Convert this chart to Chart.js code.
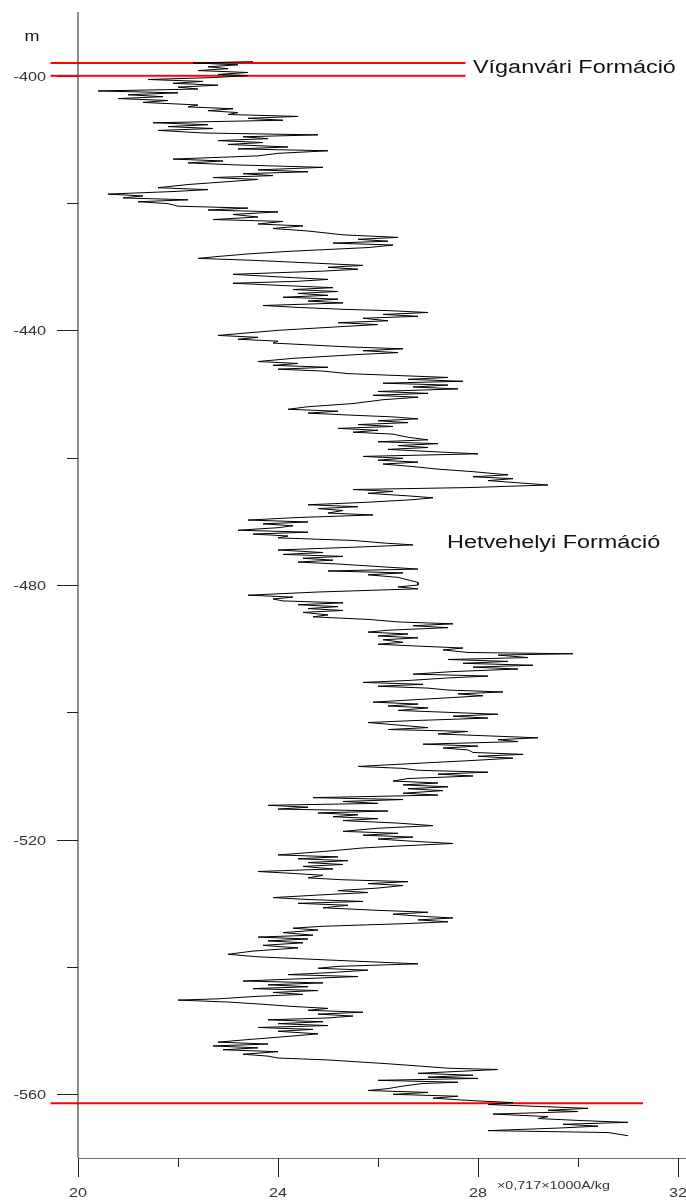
<!DOCTYPE html>
<html lang="hu">
<head>
<meta charset="UTF-8">
<title>Szuszceptibilitás szelvény</title>
<script src="https://cdn.jsdelivr.net/npm/chart.js@4.4.1/dist/chart.umd.min.js"></script>
<style>
  html, body { margin: 0; padding: 0; background: #fff; }
  canvas { display: block; }
</style>
</head>
<body>
<canvas id="logChart" width="686" height="1203"></canvas>
<script>
// mélység (m) és mért érték, soronként azonos számú elem
const depthM = [
  -397.8,-398.0,-398.3,-398.6,-398.9,-399.2,-399.5,-399.8,-400.0,
  -400.3,-400.6,-400.9,-401.2,-401.5,-401.8,-402.1,
  -402.4,-402.7,-403.0,-403.3,-403.6,-403.9,-404.2,
  -404.6,-404.9,-405.2,-405.5,-405.8,-406.1,-406.4,-406.7,-407.0,
  -407.4,-407.7,-408.0,-408.3,-408.6,
  -409.0,-409.3,-409.6,-409.9,-410.2,-410.5,-410.8,
  -411.2,-411.5,-411.8,-412.2,-412.6,
  -413.1,-413.4,-413.7,-414.0,-414.4,-414.8,-415.1,-415.4,
  -415.7,-416.0,-416.3,-416.7,-417.1,-417.6,-417.9,-418.2,
  -418.6,-418.9,-419.2,-419.5,-419.8,-420.1,
  -420.5,-420.8,-421.1,-421.4,-421.8,-422.2,
  -422.6,-422.9,-423.3,-423.6,-424.0,-424.4,
  -425.0,-425.4,-425.7,-426.0,-426.3,-426.6,-427.0,
  -427.3,-427.6,-428.0,-428.4,-428.7,
  -429.0,-429.4,-429.8,-430.1,-430.4,-430.7,
  -431.2,-431.6,-432.0,-432.3,-432.6,
  -433.0,-433.3,-433.6,-433.9,-434.2,-434.5,-434.8,-435.1,-435.4,-435.7,
  -436.1,-436.4,-436.7,-436.9,-437.2,-437.5,-437.8,-438.1,-438.5,-438.8,-439.1,-439.4,
  -440.0,-440.8,-441.1,-441.4,-441.7,-442.0,-442.2,
  -442.6,-442.9,-443.2,-443.5,-443.8,
  -444.4,-444.9,-445.2,-445.5,-445.8,-446.1,-446.4,
  -446.8,-447.1,-447.4,-447.7,-448.0,-448.3,-448.6,-448.9,-449.2,
  -449.6,-449.9,-450.2,-450.5,-450.9,
  -451.5,-452.0,-452.4,-452.7,-453.0,-453.3,
  -453.6,-453.9,-454.2,-454.5,-454.8,-455.1,-455.4,-455.7,-456.0,-456.3,
  -456.8,-457.2,-457.5,-457.8,-458.1,-458.4,-458.7,
  -459.1,-459.4,-459.8,-460.1,-460.4,-460.7,-461.0,-461.4,
  -461.8,-462.2,-462.7,-463.0,-463.3,-463.6,-464.0,-464.3,
  -464.7,-465.0,-465.3,-465.6,-466.0,-466.3,-466.6,-467.0,
  -467.4,-467.7,-468.0,-468.3,-468.7,-469.0,
  -469.4,-469.8,-470.1,-470.4,-470.7,-471.0,
  -471.4,-471.7,-472.0,-472.3,-472.6,
  -473.0,-473.4,-473.7,-474.1,-474.5,
  -474.9,-475.2,-475.5,-475.8,-476.1,-476.4,-476.7,
  -477.1,-477.5,-477.8,-478.1,-478.4,
  -478.8,-479.2,-479.6,-480.0,-480.3,-480.6,
  -481.1,-481.6,-481.9,-482.2,
  -482.5,-482.8,-483.1,-483.4,-483.7,-484.0,-484.3,-484.7,-485.0,
  -485.4,-485.8,-486.1,-486.4,-486.7,
  -487.1,-487.4,-487.7,-488.0,-488.3,-488.6,-489.0,-489.3,
  -489.6,-489.9,-490.2,-490.6,-490.8,-491.0,
  -491.4,-491.7,-492.0,-492.3,-492.6,-492.9,-493.2,
  -493.6,-494.0,-494.3,-494.6,
  -495.0,-495.3,-495.6,-495.9,-496.2,
  -496.5,-496.8,-497.1,-497.4,
  -497.9,-498.4,-498.7,-499.0,-499.3,-499.7,
  -500.0,-500.3,-500.6,-500.9,
  -501.3,-501.6,-502.0,-502.4,
  -502.7,-503.0,-503.4,-503.7,-504.0,-504.3,-504.6,
  -505.0,-505.3,-505.6,-505.9,
  -506.3,-506.6,-506.9,-507.2,-507.6,
  -508.0,-508.5,-508.8,-509.1,-509.4,-509.7,-510.0,
  -510.4,-510.8,-511.1,-511.4,-511.7,-512.0,-512.3,-512.7,-513.0,
  -513.4,-513.7,-514.0,-514.3,
  -514.6,-514.9,-515.2,-515.5,-515.8,-516.1,
  -516.4,-516.7,-517.0,-517.4,-517.8,
  -518.2,-518.7,-519.0,-519.3,-519.6,-519.9,-520.2,-520.6,
  -521.0,-521.3,-521.8,-522.1,-522.4,
  -522.7,-523.0,-523.3,-523.6,-523.9,-524.2,-524.6,
  -525.0,-525.3,-525.6,-526.0,-526.3,
  -526.6,-526.9,-527.2,-527.6,
  -528.0,-528.3,-528.7,-529.1,
  -529.4,-529.7,-530.0,-530.3,-530.7,
  -531.1,-531.4,-531.7,-532.0,-532.3,-532.6,-532.9,-533.2,
  -533.6,-533.9,-534.2,-534.6,-535.0,
  -535.3,-535.6,-535.9,-536.2,-536.6,-537.0,
  -537.5,-538.0,-538.4,-538.9,-539.2,-539.5,
  -539.9,-540.2,-540.5,-540.9,-541.2,-541.5,-541.8,
  -542.2,-542.5,-542.8,-543.1,-543.4,-543.7,-544.0,-544.3,-544.6,
  -545.0,-545.2,-545.5,-545.8,
  -546.2,-546.5,-546.8,-547.1,-547.4,-547.7,-548.0,
  -548.3,-548.6,-548.9,-549.2,-549.5,-549.8,-550.1,-550.5,-550.9,
  -551.4,-551.8,-552.1,-552.4,-552.7,-553.0,-553.3,-553.7,-554.0,
  -554.3,-554.6,-554.9,-555.2,-555.6,
  -555.9,-556.1,-556.4,
  -556.7,-557.0,-557.3,-557.5,-557.8,-558.1,-558.3,
  -558.7,-559.1,-559.4,-559.7,-560.0,-560.3,-560.6,
  -561.0,-561.3,-561.6,-561.9,-562.2,-562.5,-562.7,
  -563.1,-563.5,-563.8,-564.1,-564.4,-564.7,
  -565.0,-565.3,-565.7,-566.0,-566.5
];
const suscValue = [
  23.5,22.3,23.2,22.6,23.0,22.4,23.4,22.8,23.4,
  22.7,21.4,22.5,21.9,22.8,22.0,22.4,
  20.4,22.0,21.0,21.7,20.8,21.8,21.3,
  22.4,22.2,23.1,22.6,23.2,23.0,24.4,23.4,24.1,
  21.5,22.6,21.8,22.7,21.6,
  22.5,24.8,23.3,23.8,22.8,23.7,23.0,
  24.2,23.2,25.0,24.0,23.6,
  21.9,22.9,22.2,23.1,24.9,23.6,24.6,23.3,
  23.9,22.7,23.6,22.9,22.2,21.6,22.6,21.9,
  20.6,21.3,20.9,22.2,21.2,21.8,
  22.0,23.4,22.6,24.0,23.1,23.6,
  22.7,24.1,23.6,24.5,23.9,24.6,
  25.3,26.4,25.6,26.2,25.1,26.3,25.8,
  25.0,24.2,23.4,22.8,22.4,
  23.5,24.6,25.7,25.0,25.6,24.9,
  23.1,24.0,25.0,24.4,23.1,
  24.2,25.1,24.3,25.2,24.4,25.0,24.1,25.2,24.6,25.3,
  23.7,24.4,25.3,26.2,27.0,26.1,26.8,25.7,26.2,25.2,26.0,25.3,
  24.0,22.8,23.6,23.2,24.0,23.9,24.4,
  25.4,26.5,25.7,26.4,25.6,
  24.3,23.6,24.4,23.9,25.0,24.0,24.9,
  25.4,26.4,27.4,26.6,27.7,26.1,27.4,26.7,27.6,
  26.0,27.0,25.9,26.8,26.1,
  25.5,24.6,24.2,25.2,24.6,25.4,
  26.3,26.8,26.0,26.6,25.6,26.3,25.2,26.0,25.5,26.3,
  26.6,27.0,26.0,27.2,26.4,27.0,26.2,
  27.2,28.0,25.7,26.5,26.0,26.8,26.1,26.7,
  27.2,27.9,28.6,27.9,28.7,28.2,28.9,29.4,
  27.8,25.5,26.3,25.8,26.6,27.1,26.7,25.8,
  24.6,25.6,24.8,25.3,25.0,25.9,
  24.4,23.4,24.6,23.7,24.3,24.0,
  23.2,24.6,23.5,24.2,24.0,
  25.5,26.1,26.7,25.4,24.0,
  24.9,24.1,25.3,24.5,25.1,24.4,25.2,
  26.0,26.8,25.0,26.5,25.8,
  26.4,26.6,26.8,26.8,26.4,26.8,
  24.8,23.4,24.3,23.9,
  24.1,25.3,24.4,25.2,24.6,25.3,24.5,25.0,24.7,
  25.8,26.4,27.5,26.7,27.4,
  26.2,25.8,26.6,26.0,26.8,26.1,26.5,26.0,
  26.8,27.7,27.3,27.8,29.9,28.4,
  29.0,27.4,28.6,27.7,29.1,27.9,28.8,
  27.5,26.7,28.2,27.4,
  26.6,25.7,26.9,26.0,27.0,
  27.4,28.5,27.6,28.1,
  27.0,25.9,26.8,26.2,27.0,26.4,
  27.4,28.4,27.5,28.2,
  26.7,25.8,26.4,27.0,
  26.2,27.8,27.2,28.2,29.2,28.4,28.8,
  26.9,28.0,27.3,27.8,
  27.9,28.9,28.0,28.7,27.8,
  26.8,25.6,26.5,26.8,28.2,27.2,27.9,
  26.6,26.3,27.2,26.5,27.4,26.6,27.3,26.5,27.2,
  24.7,26.5,25.3,26.0,
  23.8,24.6,24.0,26.2,24.8,25.6,
  25.1,26.0,25.3,26.4,27.1,
  26.0,25.3,26.4,25.7,26.7,26.0,26.6,27.5,
  26.4,25.7,25.0,24.5,24.0,
  25.2,24.4,25.4,24.6,25.3,24.5,25.1,
  23.6,24.3,24.9,24.6,25.3,
  26.6,25.8,26.5,26.0,
  25.2,25.8,24.8,23.9,
  24.6,25.7,24.4,25.4,24.9,
  26.0,27.0,26.3,26.8,27.5,26.8,27.4,26.5,
  24.9,24.3,24.8,24.1,24.7,
  23.6,24.6,23.8,24.5,23.7,24.4,
  23.5,23.0,23.6,25.0,25.9,26.8,
  25.2,24.8,25.8,25.0,24.2,25.6,24.6,
  23.3,24.9,23.8,24.6,23.5,24.8,23.9,24.5,23.6,
  22.8,22.0,23.0,23.6,
  24.3,25.0,24.6,25.7,24.8,25.5,25.0,
  23.8,24.9,24.0,25.0,23.6,24.7,24.0,24.8,24.2,
  23.4,22.8,23.8,22.7,23.6,22.9,24.0,23.3,23.8,
  24.0,25.0,25.6,26.2,26.9,
  27.4,28.4,27.6,
  26.8,27.9,27.0,28.0,26.0,27.6,26.9,
  26.5,26.2,25.8,27.0,26.3,27.6,27.1,
  27.9,28.7,28.2,29.2,30.2,29.4,30.0,
  28.3,29.4,29.2,30.0,31.0,29.7,
  30.4,29.6,28.2,30.6,31.0
];

const yMajorTicks = [-400, -440, -480, -520, -560];
const yMinorTicks = [-420, -460, -500, -540];
const xMajorTicks = [20, 24, 28, 32];
const xMinorTicks = [22, 26, 30];

// formációhatárok (piros vonalak)
const formationTops = [-398, -400, -561.4];
const formationLineEnds = [27.75, 27.75, 31.3];
const formationLineStart = 19.45;

function stretchText(ctx, text, x, y, align, font, color, sx) {
  ctx.save();
  ctx.translate(x, y);
  ctx.scale(sx, 1);
  ctx.font = font;
  ctx.fillStyle = color;
  ctx.textAlign = align;
  ctx.textBaseline = 'alphabetic';
  ctx.fillText(text, 0, 0);
  ctx.restore();
}

const axisPlugin = {
  id: 'axisPlugin',
  beforeDatasetsDraw(chart) {
    const ctx = chart.ctx;
    const xs = chart.scales.x, ys = chart.scales.y;
    const a = chart.chartArea;
    ctx.save();
    // függőleges tengely
    ctx.strokeStyle = '#8c8c8c';
    ctx.lineWidth = 2;
    ctx.beginPath();
    ctx.moveTo(a.left, a.top);
    ctx.lineTo(a.left, a.bottom);
    ctx.stroke();
    // vízszintes tengely
    ctx.strokeStyle = '#707070';
    ctx.lineWidth = 1;
    ctx.beginPath();
    ctx.moveTo(a.left, a.bottom + 0.5);
    ctx.lineTo(chart.width, a.bottom + 0.5);
    ctx.stroke();

    ctx.strokeStyle = '#222';
    ctx.lineWidth = 1;
    ctx.beginPath();
    yMajorTicks.forEach(v => {
      const y = Math.round(ys.getPixelForValue(v)) + 0.5;
      ctx.moveTo(a.left - 21, y); ctx.lineTo(a.left, y);
    });
    yMinorTicks.forEach(v => {
      const y = Math.round(ys.getPixelForValue(v)) + 0.5;
      ctx.moveTo(a.left - 11, y); ctx.lineTo(a.left, y);
    });
    xMajorTicks.forEach(v => {
      const x = Math.round(xs.getPixelForValue(v)) + 0.5;
      ctx.moveTo(x, a.bottom); ctx.lineTo(x, a.bottom + 19);
    });
    xMinorTicks.forEach(v => {
      const x = Math.round(xs.getPixelForValue(v)) + 0.5;
      ctx.moveTo(x, a.bottom); ctx.lineTo(x, a.bottom + 9);
    });
    ctx.stroke();
    ctx.restore();
  },
  afterDraw(chart) {
    const ctx = chart.ctx;
    const xs = chart.scales.x, ys = chart.scales.y;
    const a = chart.chartArea;
    const tickFont = '13px "Liberation Sans", Arial, sans-serif';
    yMajorTicks.forEach(v => {
      stretchText(ctx, String(v), 46, ys.getPixelForValue(v) + 5, 'right', tickFont, '#333', 1.25);
    });
    xMajorTicks.forEach(v => {
      stretchText(ctx, String(v), xs.getPixelForValue(v), a.bottom + 39, 'center', tickFont, '#333', 1.25);
    });
    stretchText(ctx, 'm', 32, 41, 'center', '15px "Liberation Sans", Arial, sans-serif', '#111', 1.2);
    stretchText(ctx, '×0,717×1000A/kg', 497, a.bottom + 31, 'left', '11px "Liberation Sans", Arial, sans-serif', '#333', 1.3);
    const nameFont = '18px "Liberation Sans", Arial, sans-serif';
    stretchText(ctx, 'Víganvári Formáció', 473, 73, 'left', nameFont, '#111', 1.3);
    stretchText(ctx, 'Hetvehelyi Formáció', 447, 548, 'left', nameFont, '#111', 1.3);
  }
};

const logPoints = depthM.map((d, i) => ({ x: suscValue[i], y: d }));

const redLines = formationTops.map((d, i) => ({
  data: [{ x: formationLineStart, y: d }, { x: formationLineEnds[i], y: d }],
  showLine: true,
  borderColor: '#ff0000',
  borderWidth: 2,
  pointRadius: 0,
  clip: false
}));

new Chart(document.getElementById('logChart'), {
  type: 'scatter',
  data: {
    datasets: [
      {
        data: logPoints,
        showLine: true,
        borderColor: '#000',
        borderWidth: 1,
        borderJoinStyle: 'round',
        pointRadius: 0,
        clip: false
      },
      ...redLines
    ]
  },
  options: {
    responsive: false,
    animation: false,
    devicePixelRatio: 1,
    layout: { padding: { left: 0, right: 8, top: 12, bottom: 0 } },
    plugins: { legend: { display: false }, tooltip: { enabled: false } },
    scales: {
      x: {
        type: 'linear', min: 20, max: 32,
        grid: { display: false }, border: { display: false }, ticks: { display: false },
        afterFit(s) { s.height = 45; }
      },
      y: {
        type: 'linear', min: -570, max: -390,
        grid: { display: false }, border: { display: false }, ticks: { display: false },
        afterFit(s) { s.width = 78; }
      }
    }
  },
  plugins: [axisPlugin]
});
</script>
</body>
</html>
